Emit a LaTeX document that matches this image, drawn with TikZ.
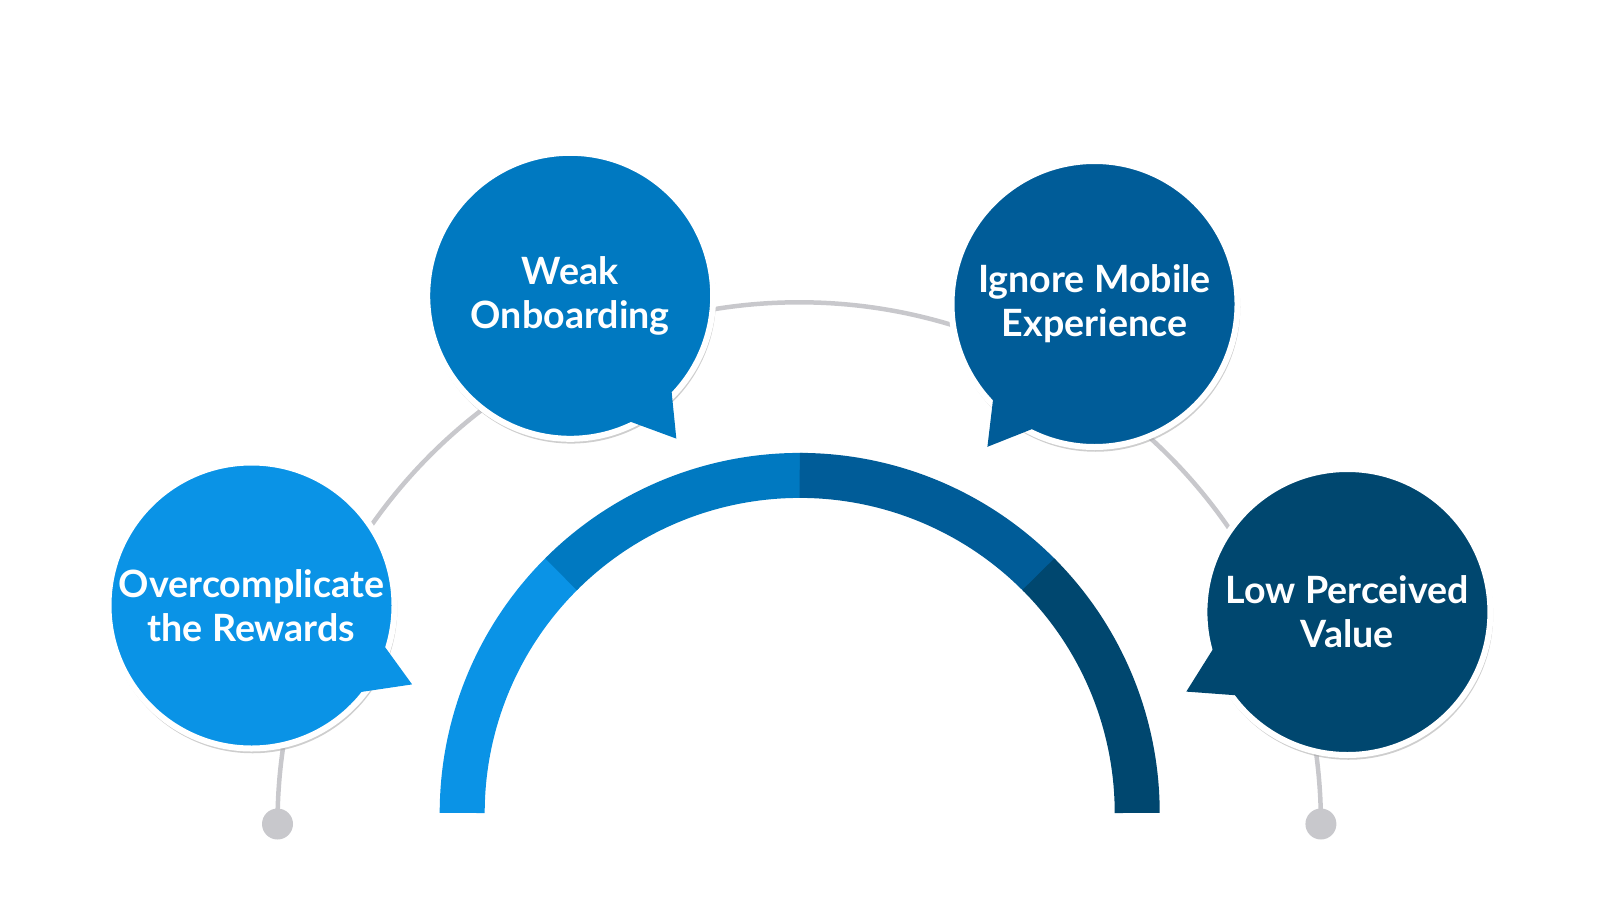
\documentclass[tikz,border=0pt]{standalone}
\usepackage{fontspec}
\setmainfont{Lato}
\usepackage{tikz}
\usetikzlibrary{calc,shadows}
\definecolor{segA}{HTML}{0A93E6}
\definecolor{segB}{HTML}{0079C1}
\definecolor{segC}{HTML}{005C98}
\definecolor{segD}{HTML}{00476F}
\definecolor{track}{HTML}{C8C8CC}

\begin{document}
\begin{tikzpicture}[bubble/.style={circle,draw=white,line width=0.06cm,minimum size=2.86cm,inner sep=0pt,align=center,text=white,font=\fontsize{10.7}{12.6}\selectfont\bfseries,drop shadow={shadow xshift=0.01cm,shadow yshift=-0.03cm,shadow scale=1.012,fill=black!35,opacity=0.55}},
dot/.style={circle,fill=track,minimum size=0.31cm,inner sep=0pt},
band/.style={line width=0.45cm}]
\useasboundingbox (0,0) rectangle (16,9);
\coordinate (O) at (7.997,0.871);
\node[dot] (L) at (2.775,0.76) {};
\node[dot] (R) at (13.209,0.76) {};
\draw[track, line width=0.045cm] (L.center) arc (180:0:5.217);
\draw[band, segA] ([shift={(180:3.375)}]O) arc (180:134.5:3.375);
\draw[band, segB] ([shift={(135:3.375)}]O) arc (135:89.5:3.375);
\draw[band, segC] ([shift={(90:3.375)}]O) arc (90:44.5:3.375);
\draw[band, segD] ([shift={(45:3.375)}]O) arc (45:0:3.375);
\node[bubble, fill=segA] (A) at (2.515,2.945) {Overcomplicate\\the Rewards};
\node[bubble, fill=segB] (B) at (5.702,6.042) {Weak\\Onboarding};
\node[bubble, fill=segC] (C) at (10.945,5.960) {Ignore Mobile\\Experience};
\node[bubble, fill=segD] (D) at (13.474,2.88) {Low Perceived\\Value};
\fill[segA] ($(A)!0.93!(A.-16)$) -- (4.121,2.156) -- ($(A)!0.93!(A.-40)$) -- cycle;
\fill[segB] ($(B)!0.93!(B.-42)$) -- (6.763,4.614) -- ($(B)!0.93!(B.-66)$) -- cycle;
\fill[segC] ($(C)!0.93!(C.222)$) -- (9.874,4.532) -- ($(C)!0.93!(C.245)$) -- cycle;
\fill[segD] ($(D)!0.93!(D.194)$) -- (11.863,2.084) -- ($(D)!0.93!(D.218)$) -- cycle;
\end{tikzpicture}
\end{document}
